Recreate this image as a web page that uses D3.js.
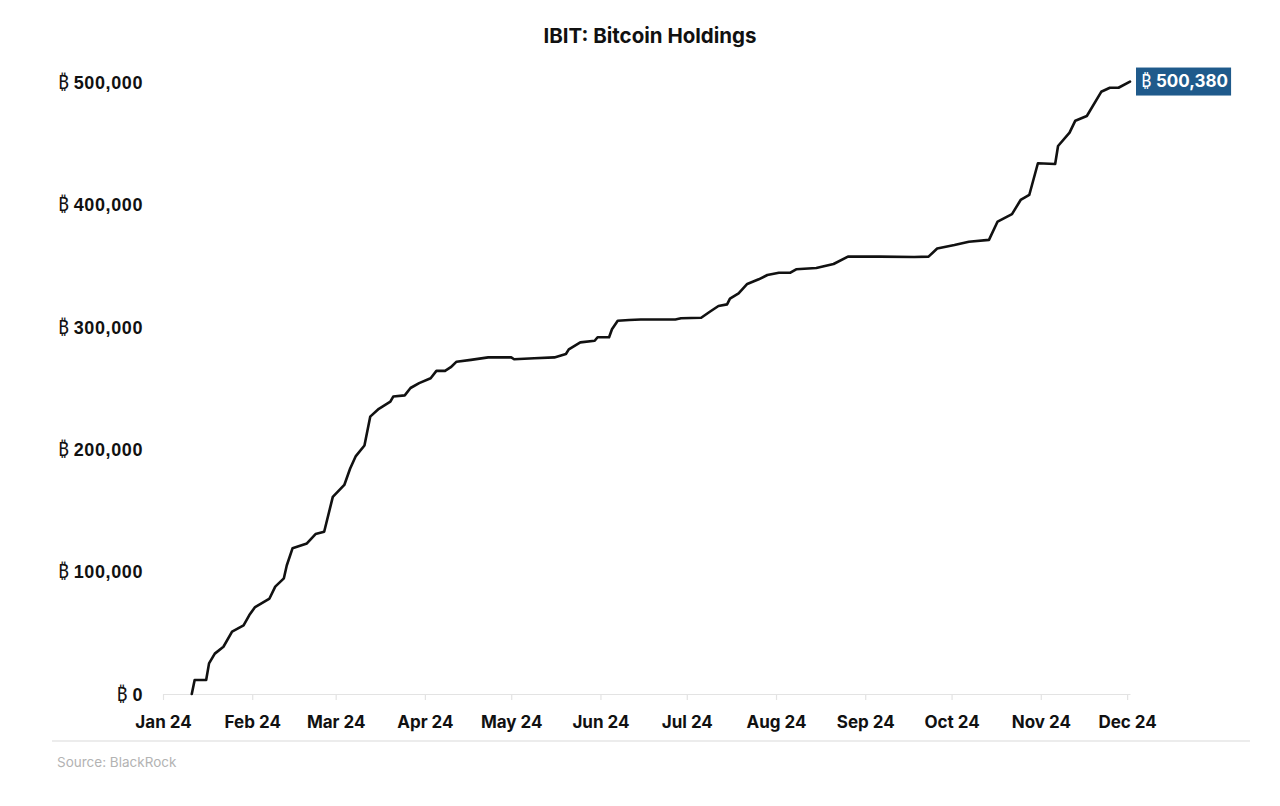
<!DOCTYPE html>
<html>
<head>
<meta charset="utf-8">
<script src="https://cdn.jsdelivr.net/npm/d3@7"></script>
<style>
  html, body { margin: 0; padding: 0; background: #fff; }
  svg { display: block; font-family: Inter, "Open Sans", sans-serif; }
</style>
</head>
<body>
<svg id="chart" width="1280" height="806"></svg>
<script>
// ---- data ----
const dates = ["2024-01-11","2024-01-12","2024-01-16","2024-01-17","2024-01-19","2024-01-22","2024-01-25","2024-01-29","2024-01-31",
  "2024-02-02","2024-02-07","2024-02-09","2024-02-12","2024-02-13","2024-02-15","2024-02-20","2024-02-23","2024-02-26","2024-02-29",
  "2024-03-04","2024-03-06","2024-03-08","2024-03-11","2024-03-13","2024-03-16","2024-03-20","2024-03-21","2024-03-25","2024-03-27","2024-03-30",
  "2024-04-03","2024-04-05","2024-04-08","2024-04-10","2024-04-12","2024-04-17","2024-04-23",
  "2024-05-01","2024-05-02","2024-05-09","2024-05-16","2024-05-20","2024-05-21","2024-05-25","2024-05-30","2024-05-31",
  "2024-06-04","2024-06-05","2024-06-07","2024-06-11","2024-06-15","2024-06-27","2024-06-29",
  "2024-07-06","2024-07-09","2024-07-12","2024-07-15","2024-07-16","2024-07-19","2024-07-22","2024-07-26","2024-07-29",
  "2024-08-02","2024-08-06","2024-08-08","2024-08-15","2024-08-21","2024-08-26",
  "2024-09-06","2024-09-18","2024-09-23","2024-09-26",
  "2024-10-02","2024-10-07","2024-10-14","2024-10-17","2024-10-22","2024-10-25","2024-10-28","2024-10-31",
  "2024-11-06","2024-11-07","2024-11-11","2024-11-13","2024-11-17","2024-11-22","2024-11-25","2024-11-28","2024-12-02"];
const holdings = [0,11400,11400,25000,33000,38600,51000,56000,64500,
  71000,78000,87700,94500,105000,119000,123000,130700,132600,161000,
  170800,184000,194400,203000,226600,233000,238800,243000,244000,250000,254000,
  258000,264000,264000,267000,271500,273000,275000,
  275000,273500,274300,275000,277800,281600,287300,288600,291500,
  291500,298000,305000,305600,306000,306000,307000,
  307400,312300,317000,318300,323000,327300,335000,338800,342300,
  344200,344200,347000,348000,351300,357300,
  357300,357000,357300,364000,
  366800,369500,371000,386000,392000,403600,407700,433600,
  433000,447700,458600,468400,472200,492000,495300,495300,500380];
const yTicks = [0, 100000, 200000, 300000, 400000, 500000];
const xTickMonths = ["2024-01-01","2024-02-01","2024-03-01","2024-04-01","2024-05-01","2024-06-01","2024-07-01","2024-08-01","2024-09-01","2024-10-01","2024-11-01","2024-12-01"];
const title = "IBIT: Bitcoin Holdings";
const source = "Source:  BlackRock";
const lastLabel = "500,380";
const btc = "\u20BF";

// ---- setup ----
const parse = d3.utcParse("%Y-%m-%d");
const data = dates.map((d, i) => ({ date: parse(d), value: holdings[i] }));
const svg = d3.select("#chart");

const x = d3.scaleUtc().domain([parse("2024-01-01"), parse("2024-12-02")]).range([163, 1130]);
const y = d3.scaleLinear().domain([0, 500000]).range([694, 82]);

const symFont = "'Noto Sans', 'DejaVu Sans', sans-serif";

// title
svg.append("text").attr("x", 650).attr("y", 43).attr("text-anchor", "middle")
  .attr("font-size", 20.5).attr("font-weight", 700).attr("fill", "#111").text(title);

// x axis
const xAxis = d3.axisBottom(x).tickValues(xTickMonths.map(parse)).tickSize(6)
  .tickFormat(d3.utcFormat("%b %y")).tickSizeOuter(0);
const gx = svg.append("g").attr("transform", "translate(0,694)").call(xAxis);
gx.select(".domain").attr("stroke", "#e3e3e3").attr("stroke-width", 1.2);
gx.selectAll(".tick line").attr("stroke", "#e3e3e3").attr("stroke-width", 1.2);
gx.selectAll(".tick text").attr("dy", 0).attr("y", 34).attr("font-size", 17).attr("font-weight", 700)
  .attr("fill", "#111").attr("font-family", "Inter, sans-serif");

// y axis
const fmt = d3.format(",");
const gy = svg.append("g").attr("transform", "translate(143,0)")
  .call(d3.axisLeft(y).tickValues(yTicks).tickSize(0).tickFormat(""));
gy.select(".domain").remove();
gy.selectAll(".tick").each(function(d) {
  const t = d3.select(this).append("text").attr("x", 0).attr("dy", "0.35em")
    .attr("text-anchor", "end").attr("fill", "#111").attr("font-size", 18);
  t.append("tspan").attr("font-weight", 400).attr("font-family", symFont).attr("font-size", 19).text(btc + "\u00A0");
  t.append("tspan").attr("font-weight", 700).attr("letter-spacing", 0.6).text(fmt(d));
});

// line
const line = d3.line().x(d => x(d.date)).y(d => y(d.value)).curve(d3.curveLinear);
svg.append("path").datum(data).attr("d", line).attr("fill", "none")
  .attr("stroke", "#111").attr("stroke-width", 2.6).attr("stroke-linejoin", "round").attr("stroke-linecap", "round");

// end label
const last = data[data.length - 1];
const lg = svg.append("g").attr("transform", `translate(${x(last.date) + 6},${y(last.value)})`);
const rect = lg.append("rect").attr("fill", "#1f5a8b");
const lt = lg.append("text").attr("x", 5).attr("dy", "0.35em").attr("fill", "#fff").attr("font-size", 17);
lt.append("tspan").attr("font-family", symFont).attr("font-size", 18).text(btc + " ");
lt.append("tspan").attr("font-weight", 700).text(lastLabel);
const w = lt.node().getComputedTextLength();
rect.attr("x", 0).attr("y", -14).attr("width", w + 8).attr("height", 28);

// footer
svg.append("line").attr("x1", 52).attr("x2", 1250).attr("y1", 741).attr("y2", 741)
  .attr("stroke", "#e6e6e6").attr("stroke-width", 1.5);
svg.append("text").attr("x", 57).attr("y", 767).attr("font-size", 13.5).attr("fill", "#b3b3b3").text(source);
</script>
</body>
</html>
